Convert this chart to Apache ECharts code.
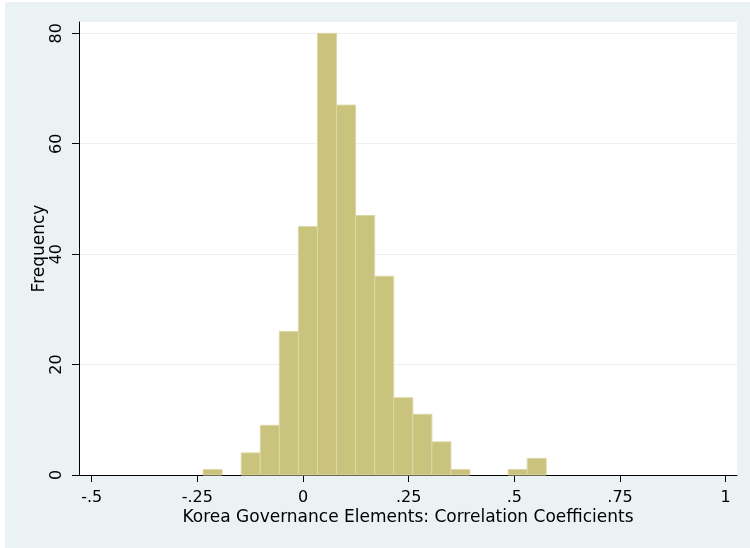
<!DOCTYPE html>
<html>
<head>
<meta charset="utf-8">
<script src="https://cdn.jsdelivr.net/npm/echarts@6/dist/echarts.min.js"></script>
<style>
  html, body { margin: 0; padding: 0; background: #ffffff; }
  #chart { position: absolute; left: 5px; top: 2px; width: 745px; height: 546px; }
</style>
</head>
<body>
<div id="chart"></div>
<script>
// Histogram of correlation coefficients: 18 equal-width bins
const binStart = -0.2364;
const binWidth = 0.0451;
const binCounts = [1, 0, 4, 9, 26, 45, 80, 67, 47, 36, 14, 11, 6, 1, 0, 0, 1, 3];

const xTickValues = [-0.5, -0.25, 0, 0.25, 0.5, 0.75, 1];
const xTickLabels = ['-.5', '-.25', '0', '.25', '.5', '.75', '1'];
const yTickValues = [0, 20, 40, 60, 80];

const xTitle = 'Korea Governance Elements: Correlation Coefficients';
const yTitle = 'Frequency';

const bins = binCounts.map((c, i) => [binStart + i * binWidth, binStart + (i + 1) * binWidth, c]);

const FONT = 'DejaVu Sans';
const chart = echarts.init(document.getElementById('chart'));

chart.setOption({
  backgroundColor: '#EAF2F3',
  animation: false,
  grid: {
    left: 74, right: 13, top: 20, bottom: 73,
    show: true, backgroundColor: '#ffffff', borderWidth: 0
  },
  xAxis: {
    type: 'value',
    min: -0.53, max: 1.0267,
    name: xTitle,
    nameLocation: 'middle',
    nameGap: 34,
    nameMoveOverlap: false,
    nameTextStyle: { fontFamily: FONT, fontSize: 17, color: '#000' },
    axisLine: { show: true, onZero: false, lineStyle: { color: '#000', width: 1 } },
    axisTick: { show: true, length: 7, lineStyle: { color: '#000' }, customValues: xTickValues },
    axisLabel: {
      customValues: xTickValues,
      margin: 15,
      fontFamily: FONT, fontSize: 16, color: '#000',
      formatter: v => xTickLabels[xTickValues.findIndex(t => Math.abs(t - v) < 1e-9)]
    },
    splitLine: { show: false }
  },
  yAxis: {
    type: 'value',
    min: 0, max: 82.05,
    name: yTitle,
    nameLocation: 'middle',
    nameGap: 31,
    nameMoveOverlap: false,
    nameTextStyle: { fontFamily: FONT, fontSize: 17, color: '#000' },
    axisLine: { show: true, onZero: false, lineStyle: { color: '#000', width: 1 } },
    axisTick: { show: true, length: 7, lineStyle: { color: '#000' }, customValues: yTickValues },
    axisLabel: {
      customValues: yTickValues,
      rotate: 90,
      margin: 14,
      fontFamily: FONT, fontSize: 16, color: '#000'
    },
    splitLine: { show: true, lineStyle: { color: '#EAF2F3', width: 1 } }
  },
  series: [{
    type: 'custom',
    data: bins,
    encode: { x: [0, 1], y: 2 },
    renderItem: function (params, api) {
      if (api.value(2) <= 0) return null;
      const p0 = api.coord([api.value(0), api.value(2)]);
      const p1 = api.coord([api.value(1), 0]);
      return {
        type: 'rect',
        shape: { x: p0[0], y: p0[1], width: p1[0] - p0[0], height: p1[1] - p0[1] },
        style: { fill: '#CAC37E', stroke: '#DCD8A6', lineWidth: 1 }
      };
    }
  }]
});
</script>
</body>
</html>
